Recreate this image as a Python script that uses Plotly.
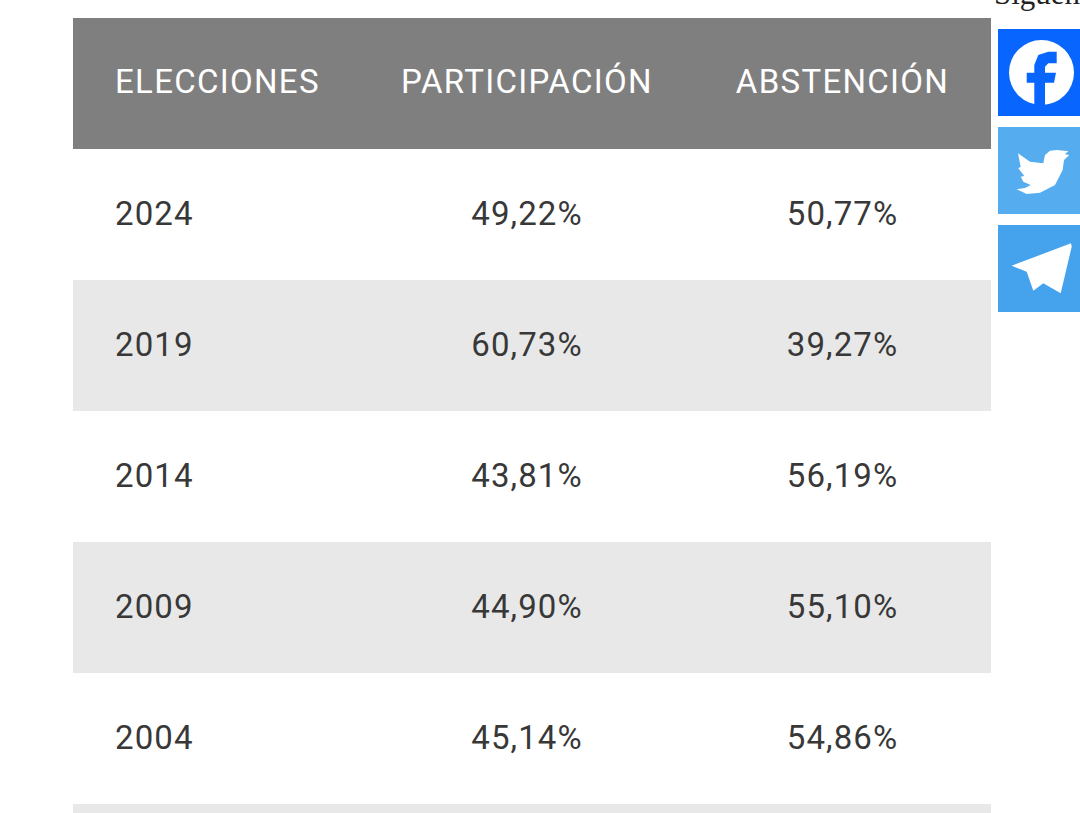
import plotly.graph_objects as go

W = 1080
H = 813

columnas = ["", "ELECCIONES", "PARTICIPACIÓN", "ABSTENCIÓN"]
hueco = ["", "", "", "", ""]
elecciones = ["2024", "2019", "2014", "2009", "2004"]
participacion = ["49,22%", "60,73%", "43,81%", "44,90%", "45,14%"]
abstencion = ["50,77%", "39,27%", "56,19%", "55,10%", "54,86%"]

GRIS_CAB = "#7f7f7f"
GRIS_FILA = "#e8e8e8"
BLANCO = "#ffffff"
TEXTO = "#383838"

# la pagina trae margen en el body y la tabla no tiene letter-spacing propio;
# el centrado de plotly se calcula antes del espaciado, asi que se corrige aqui
AJUSTES_JS = """
document.body.style.margin = '0';
document.querySelectorAll('.cell-text').forEach(function (t) {
    var cab = t.style.fill.indexOf('255, 255, 255') >= 0;
    var antes = t.getBBox().width;
    t.style.letterSpacing = cab ? '1.3px' : '1.1px';
    var centrado = /%|PARTICIP|ABSTEN/.test(t.textContent);
    var dx = centrado ? (antes - t.getBBox().width) / 2 : 0;
    t.style.translate = dx + 'px ' + (cab ? -7 : -5.5) + 'px';
});
"""


def bajar(textos):
    # la tabla no centra en vertical: una linea vacia encima hace de relleno
    return ["&nbsp;<br>" + t for t in textos]


def path(puntos, ox, oy, esc):
    # puntos medidos sobre el recorte, pasados a pixeles de la pagina
    s = ""
    for i, (a, b) in enumerate(puntos):
        s += ("M" if i == 0 else "L") + f"{ox + a / esc:.1f},{oy + b / esc:.1f} "
    return s + "Z"


def caja(x0, y0, x1, y1, color, tipo="rect"):
    return dict(type=tipo, xref="x", yref="y", x0=x0, y0=y0, x1=x1, y1=y1,
                fillcolor=color, line_width=0, layer="above")


def icono(puntos, ox, oy, esc, color):
    return dict(type="path", xref="x", yref="y", path=path(puntos, ox, oy, esc),
                fillcolor=color, line_width=0, layer="above")


f_logo = [(230, 155), (230, 190), (205, 190), (195, 200), (195, 218), (228, 218), (222, 248),
          (195, 248), (195, 316), (163, 316), (163, 248), (140, 248), (140, 218), (163, 218),
          (163, 195), (175, 165), (205, 155)]
pajaro = [(200, 90), (222, 92), (235, 93), (225, 103), (238, 105), (222, 120), (218, 150),
          (195, 195), (150, 218), (110, 222), (80, 208), (105, 204), (122, 195), (100, 185),
          (92, 170), (103, 168), (85, 145), (92, 140), (84, 100), (120, 125), (160, 130),
          (165, 105), (180, 92)]
avion = [(243, 370), (65, 437), (110, 455), (130, 512), (160, 490), (212, 520), (245, 380)]

fig = go.Figure()

fig.add_trace(go.Table(
    domain=dict(x=[73 / W, 991 / W], y=[(H - 804) / H, (H - 18) / H]),
    columnwidth=[34, 253, 334, 297],
    header=dict(values=bajar(columnas),
                align=["left", "left", "center", "center"],
                height=131,
                fill_color=GRIS_CAB,
                line_width=0,
                font=dict(family="Roboto", size=33, color=BLANCO)),
    cells=dict(values=[hueco, bajar(elecciones), bajar(participacion), bajar(abstencion)],
               align=["left", "left", "center", "center"],
               height=131,
               fill_color=[[BLANCO, GRIS_FILA, BLANCO, GRIS_FILA, BLANCO]] * 4,
               line_width=0,
               font=dict(family="Roboto", size=33, color=TEXTO)),
))

fig.update_xaxes(range=[0, W], visible=False, fixedrange=True)
fig.update_yaxes(range=[H, 0], visible=False, fixedrange=True)

fig.update_layout(
    width=W,
    height=H,
    margin=dict(l=0, r=0, t=0, b=0),
    paper_bgcolor=BLANCO,
    plot_bgcolor="rgba(0,0,0,0)",
    xaxis=dict(domain=[0, 1]),
    yaxis=dict(domain=[0, 1]),
    shapes=[
        caja(73, 804, 991, 813, GRIS_FILA),
        caja(998, 29, 1080, 116, "#0866ff"),
        caja(998, 127, 1080, 214, "#55acee"),
        caja(998, 225, 1080, 312, "#45a3ee"),
        caja(1009, 40, 1074, 105, BLANCO, "circle"),
        icono(f_logo, 980, 0, 3, "#0866ff"),
        icono(pajaro, 990, 120, 3, BLANCO),
        icono(avion, 990, 120, 3, BLANCO),
    ],
    annotations=[dict(text="Síguen", x=993, y=12, xref="x", yref="y", xanchor="left",
                      yanchor="bottom", showarrow=False, borderpad=0,
                      font=dict(family="Liberation Serif", size=31, color="#222222"))],
)
# eje invisible para poder colocar los iconos en pixeles
fig.add_trace(go.Scatter(x=[None], y=[None], showlegend=False, hoverinfo="skip"))

fig.write_html("out.html", post_script=AJUSTES_JS, config=dict(displayModeBar=False))
